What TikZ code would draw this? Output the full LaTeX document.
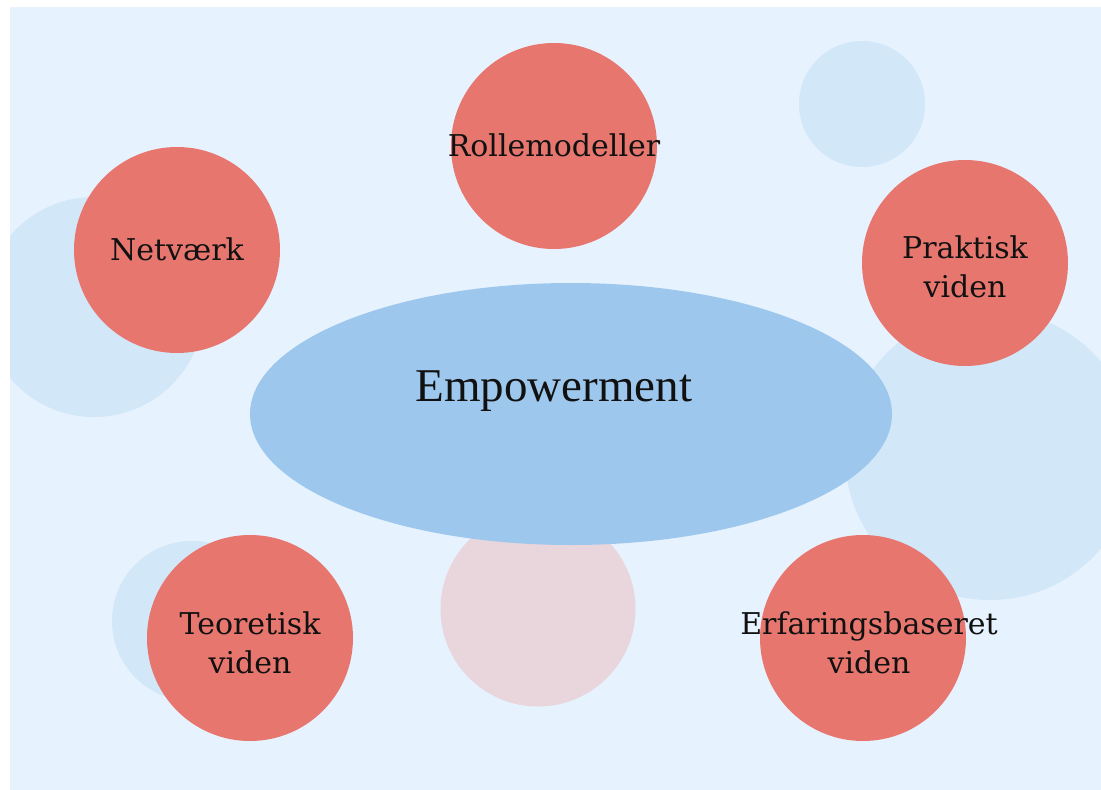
\documentclass[tikz,border=0pt]{standalone}
\usepackage{fontspec}
\usetikzlibrary{shapes.geometric}
\setmainfont{Liberation Serif}
\newfontfamily\lblfont{DejaVu Serif}
\definecolor{bgblue}{HTML}{E6F2FD}
\definecolor{paleblue}{HTML}{D2E7F7}
\definecolor{ellblue}{HTML}{9DC7EC}
\definecolor{redc}{HTML}{E86E64}
\definecolor{pinkc}{HTML}{E8D6DC}
\definecolor{txt}{HTML}{111111}
\begin{document}
\begin{tikzpicture}[x=1pt,y=-1pt,
  pale/.style={circle,fill=paleblue,inner sep=0pt},
  redcirc/.style={circle,fill=redc,fill opacity=0.93,inner sep=0pt,minimum size=206pt},
  lbl/.style={font=\lblfont\fontsize{30}{39}\selectfont,text=txt,align=center,inner sep=0pt}]
\useasboundingbox (0,0) rectangle (1101,790);
\fill[white] (0,0) rectangle (1101,790);
\fill[bgblue] (10,7) rectangle (1101,790);
\begin{scope}
\clip (10,7) rectangle (1101,790);
\node[pale,minimum size=220pt] (pl) at (94,307) {};
\node[pale,minimum size=160pt] (pbl) at (192,621) {};
\node[pale,minimum size=126pt] (ptr) at (862,104) {};
\node[pale,minimum size=290pt] (pr) at (990,455) {};
\end{scope}
\node[circle,fill=pinkc,inner sep=0pt,minimum size=195pt] (pink) at (538,609) {};
\node[ellipse,fill=ellblue,inner sep=0pt,minimum width=642pt,minimum height=262pt] (emp) at (571,414) {};
\node[font=\fontsize{47}{50}\selectfont,text=txt,anchor=base,inner sep=0pt] (emptxt) at (554,401) {Empowerment};
\node[redcirc] (rolle) at (554,146) {};
\node[redcirc] (net) at (177,250) {};
\node[redcirc] (prak) at (965,263) {};
\node[redcirc] (teo) at (250,638) {};
\node[redcirc] (erf) at (863,638) {};
\node[lbl] (rolletxt) at (554,145) {Rollemodeller};
\node[lbl] (nettxt) at (177,249) {Netværk};
\node[lbl] (praktxt) at (965,267) {Praktisk\\viden};
\node[lbl] (teotxt) at (250,643) {Teoretisk\\viden};
\node[lbl] (erftxt) at (869,643) {Erfaringsbaseret\\viden};
\end{tikzpicture}
\end{document}
